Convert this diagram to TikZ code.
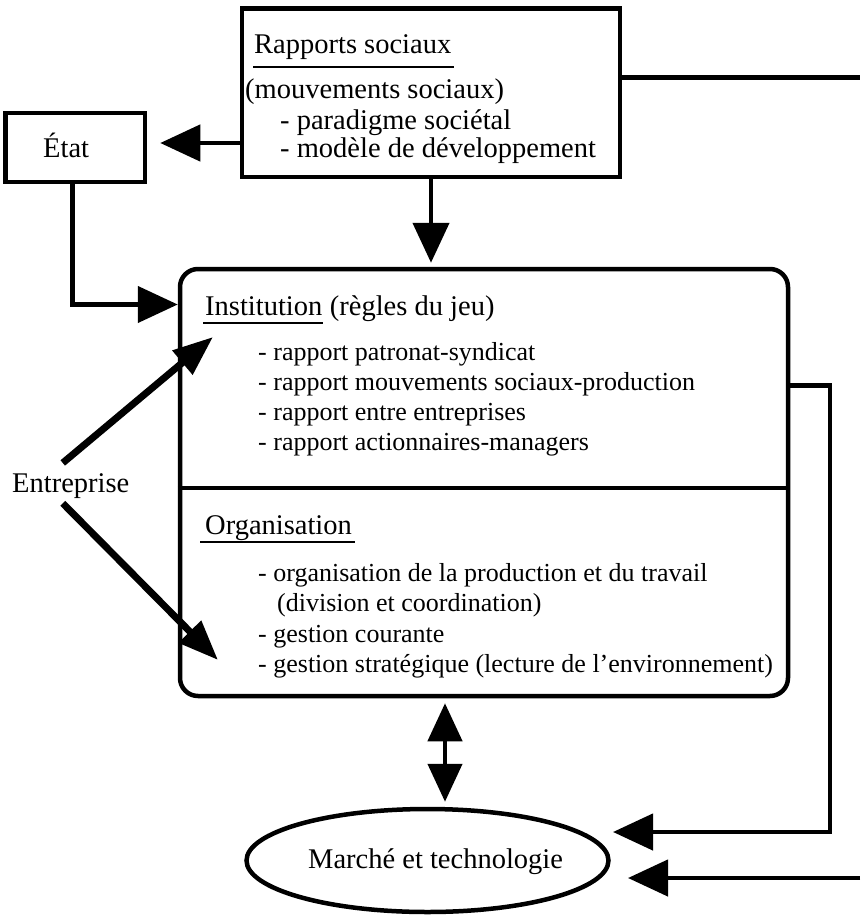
\documentclass[tikz,border=0pt]{standalone}
\usepackage{fontspec}
\setmainfont{Liberation Serif}
\usetikzlibrary{arrows.meta,shapes.geometric}
\begin{document}
\begin{tikzpicture}[x=1pt,y=-1pt,
  box/.style={draw, line width=4.5pt, inner sep=0pt},
  head/.style={font=\fontsize{28.5}{34}\selectfont, anchor=base west, inner sep=0pt},
  item/.style={font=\fontsize{26}{31}\selectfont, anchor=base west, inner sep=0pt},
  ul/.style={line width=2.5pt},
  conn/.style={line width=4.5pt},
  arr/.style={line width=4.5pt, -{Triangle[length=40pt,width=36pt]}},
  bigarr/.style={line width=7pt, -{Triangle[length=40pt,width=30pt]}},
  dblarr/.style={line width=4.5pt, {Triangle[length=38pt,width=34pt]}-{Triangle[length=38pt,width=34pt]}},
]
\useasboundingbox (0,0) rectangle (860,916);

% boxes
\node[box, minimum width=378pt, minimum height=168.5pt] (rap) at (431,92.75) {};
\node[box, minimum width=139.5pt, minimum height=69pt] (etat) at (75.25,147.5) {};
\node[box, rounded corners=18pt, minimum width=608pt, minimum height=427pt] (inst) at (484,482.5) {};
\node[draw, ellipse, line width=4.5pt, minimum width=362pt, minimum height=103pt, inner sep=0pt] (mt) at (427.5,860.5) {};

% divider
\coordinate (div) at (0,488);
\draw[line width=4pt] (inst.west |- div) -- (inst.east |- div);

% Rapports sociaux texts
\node[head] (rstitle) at (254,53) {Rapports sociaux};
\draw[ul] ([xshift=-1pt,yshift=-14pt]rstitle.base west) -- ([xshift=3pt,yshift=-14pt]rstitle.base east);
\node[head] (rs1) at (245,98) {(mouvements sociaux)};
\node[head] (rs2) at (280,129) {- paradigme sociétal};
\node[head] (rs3) at (280,157) {- modèle de développement};

% Etat
\node[head] (etatlbl) at (43,157) {État};

% Institution texts
\node[head] (insttitle) at (205,315) {Institution};
\node[head] (instsub) at (insttitle.base east) {\ (règles du jeu)};
\draw[ul] ([xshift=-2pt,yshift=-8pt]insttitle.base west) -- ([xshift=0pt,yshift=-8pt]insttitle.base east);
\node[item] (i1) at (258,360) {- rapport patronat-syndicat};
\node[item] (i2) at (258,390) {- rapport mouvements sociaux-production};
\node[item] (i3) at (258,420) {- rapport entre entreprises};
\node[item] (i4) at (258,450) {- rapport actionnaires-managers};

% Organisation texts
\node[head] (orgtitle) at (205,534) {Organisation};
\draw[ul] ([xshift=-5pt,yshift=-8pt]orgtitle.base west) -- ([xshift=3pt,yshift=-8pt]orgtitle.base east);
\node[item] (o1) at (258,581) {- organisation de la production et du travail};
\node[item] (o2) at (277,611) {(division et coordination)};
\node[item] (o3) at (258,642) {- gestion courante};
\node[item] (o4) at (258,672) {- gestion stratégique (lecture de l’environnement)};

% Entreprise
\node[head] (ent) at (12,492) {Entreprise};

% Marche
\node[head] (mtlbl) at (308,868) {Marché et technologie};

% connectors
\coordinate (rE) at (860,77.5);
\draw[conn] (rap.east |- rE) -- (rE);

\coordinate (ea) at ([xshift=13pt,yshift=4.5pt]etat.east);
\draw[arr] (rap.west |- ea) -- (ea);

\draw[arr, shorten >=4pt] (rap.south) -- (rap.south |- inst.north);

\coordinate (eb) at (0,304.5);
\draw[arr] ([xshift=-2.75pt]etat.south) |- (inst.west |- eb);

\coordinate (en1) at ([xshift=-8pt,yshift=10pt]ent.north);
\coordinate (en2) at ([xshift=-8pt,yshift=-5pt]ent.south);
\coordinate (t1) at (213,337);
\coordinate (t2) at (218,660);
\draw[bigarr] (en1) -- (t1);
\draw[bigarr] (en2) -- (t2);

\coordinate (c1) at (830,385.5);
\coordinate (tA) at (613,832);
\draw[arr] (inst.east |- c1) -- (c1) |- (tA);

\coordinate (rB) at (860,878);
\coordinate (tB) at (628,878);
\draw[arr] (rB) -- (tB);

\coordinate (d1) at (445,0);
\draw[dblarr, shorten <=5pt, shorten >=5pt] (inst.south -| d1) -- (mt.north -| d1);
\end{tikzpicture}
\end{document}
